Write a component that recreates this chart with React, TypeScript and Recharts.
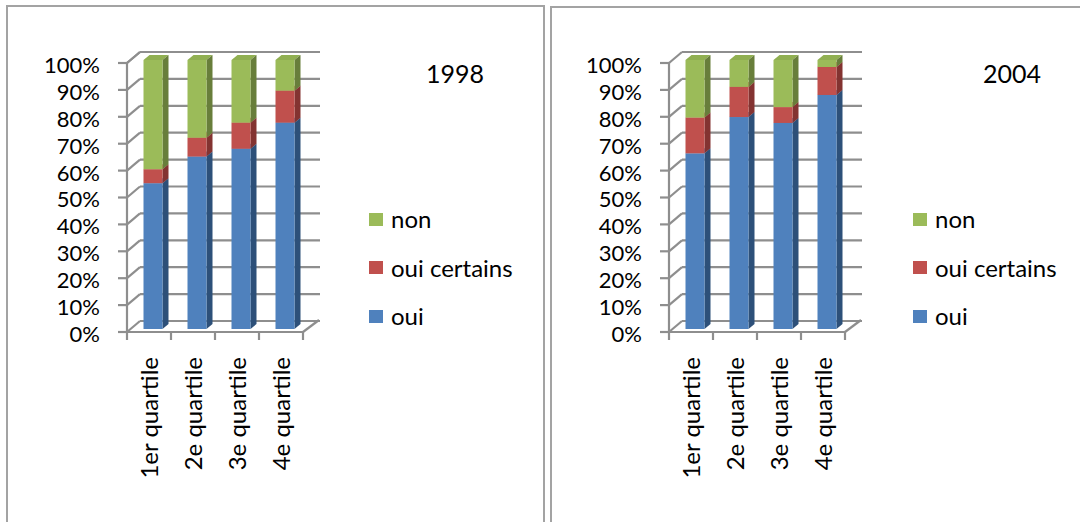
import React from "react";
import { Bar, BarChart, CartesianGrid, Legend, XAxis, YAxis } from "recharts";

const CATEGORIES = ["1er quartile", "2e quartile", "3e quartile", "4e quartile"];

const OUI_1998 = [54.2, 64.1, 67.0, 76.7];
const OUI_CERTAINS_1998 = [5.2, 7.0, 9.7, 11.9];
const NON_1998 = [40.6, 28.9, 23.3, 11.4];

const OUI_2004 = [65.3, 78.8, 76.6, 87.0];
const OUI_CERTAINS_2004 = [13.3, 11.2, 5.9, 10.4];
const NON_2004 = [21.4, 10.0, 17.5, 2.6];

const Y_TICKS = [0, 10, 20, 30, 40, 50, 60, 70, 80, 90, 100];

const SERIES = [
  { key: "oui", front: "#4F81BD", side: "#2D5079", top: "#5A8BC5" },
  { key: "oui certains", front: "#C0504D", side: "#833331", top: "#C95E5B" },
  { key: "non", front: "#9BBB59", side: "#687E3B", top: "#90AF51" },
];
// legend lists the series top-down, like the stack
const LEGEND_ORDER = ["non", "oui certains", "oui"];

const FONT = "Lato, 'Open Sans', sans-serif";
const GRID = "#8E8E8E";

// fake 3d depth
const DX = 6;
const DY = 5;
const SHIFT_X = 3.5;
const SHIFT_Y = -3;

function buildRows(oui: number[], ouiCertains: number[], non: number[]) {
  return CATEGORIES.map((quartile, i) => ({
    quartile,
    oui: oui[i],
    "oui certains": ouiCertains[i],
    non: non[i],
  }));
}

function Bar3D(props: any) {
  const { x, y, width, height, fill, side, top } = props;
  if (!height || height <= 0) return null;
  const fx = x + SHIFT_X;
  const fy = y + SHIFT_Y;
  return (
    <g>
      <polygon
        points={`${fx},${fy} ${fx + DX},${fy - DY} ${fx + width + DX},${fy - DY} ${fx + width},${fy}`}
        fill={top}
      />
      <polygon
        points={`${fx + width},${fy} ${fx + width + DX},${fy - DY} ${fx + width + DX},${fy + height - DY} ${fx + width},${fy + height}`}
        fill={side}
      />
      <rect x={fx} y={fy} width={width} height={height} fill={fill} />
    </g>
  );
}

function gridLine(p: any) {
  const { x1, x2, y1, key } = p;
  return (
    <g key={key}>
      <line x1={x1} y1={y1} x2={x1 + 13} y2={y1 - 11} stroke={GRID} strokeWidth={2.2} />
      <line x1={x1 + 13} y1={y1 - 11} x2={x2 + 17} y2={y1 - 11} stroke={GRID} strokeWidth={2.2} />
    </g>
  );
}

function PctTick(p: any) {
  return (
    <text x={p.x} y={p.y + 2} dy="0.36em" textAnchor="end" fontSize={22} fontFamily={FONT} fill="#000">
      {`${p.payload.value}%`}
    </text>
  );
}

function QuartileTick(p: any) {
  const { x, y, payload, index } = p;
  const half = payload.offset ?? 22;
  const last = index === CATEGORIES.length - 1;
  return (
    <g transform={`translate(${x},${y})`}>
      <line x1={-half} y1={0} x2={-half} y2={8} stroke={GRID} strokeWidth={2.2} />
      {last && <line x1={half} y1={0} x2={half} y2={8} stroke={GRID} strokeWidth={2.2} />}
      {last && <line x1={half} y1={0} x2={half + 16} y2={-12} stroke={GRID} strokeWidth={2.2} />}
      <text
        transform="rotate(-90)"
        x={-25}
        y={0}
        dy="0.36em"
        textAnchor="end"
        fontSize={24}
        fontFamily={FONT}
        fill="#000"
      >
        {payload.value}
      </text>
    </g>
  );
}

function LegendContent({ payload }: any) {
  const items = LEGEND_ORDER.map((name) => (payload || []).find((it: any) => it.value === name)).filter(Boolean);
  return (
    <div style={{ fontFamily: FONT, fontSize: 24, color: "#000" }}>
      {items.map((item: any) => (
        <div key={item.value} style={{ display: "flex", alignItems: "center", height: 48.5 }}>
          <span style={{ width: 14, height: 13, background: item.color, marginRight: 8 }} />
          <span style={{ lineHeight: "24px" }}>{item.value}</span>
        </div>
      ))}
    </div>
  );
}

type PanelProps = {
  left: number;
  title: string;
  titleLeft: number;
  legendLeft: number;
  data: ReturnType<typeof buildRows>;
};

function YearChart({ left, title, titleLeft, legendLeft, data }: PanelProps) {
  return (
    <div style={{ position: "absolute", left, top: 0, width: 540, height: 522 }}>
      <BarChart
        width={540}
        height={522}
        data={data}
        margin={{ top: 63, right: 237, bottom: 40, left: 0 }}
        barSize={19}
      >
        <CartesianGrid vertical={false} horizontal={gridLine} />
        <XAxis
          dataKey="quartile"
          height={150}
          interval={0}
          tickLine={false}
          tickSize={0}
          tickMargin={0}
          axisLine={{ stroke: GRID, strokeWidth: 2.2 }}
          tick={<QuartileTick />}
        />
        <YAxis
          width={127}
          domain={[0, 100]}
          ticks={Y_TICKS}
          interval={0}
          tickSize={9}
          tickMargin={18}
          axisLine={{ stroke: GRID, strokeWidth: 2.2 }}
          tickLine={{ stroke: GRID, strokeWidth: 2.2 }}
          tick={<PctTick />}
        />
        <Legend
          layout="vertical"
          align="center"
          verticalAlign="middle"
          wrapperStyle={{ left: legendLeft, top: 195, width: 180 }}
          content={<LegendContent />}
        />
        {SERIES.map((s) => (
          <Bar
            key={s.key}
            dataKey={s.key}
            stackId="a"
            fill={s.front}
            isAnimationActive={false}
            shape={(p: any) => <Bar3D {...p} side={s.side} top={s.top} />}
          />
        ))}
      </BarChart>
      <div
        style={{
          position: "absolute",
          left: titleLeft,
          top: 61,
          fontFamily: FONT,
          fontSize: 25,
          lineHeight: "25px",
          color: "#000",
        }}
      >
        {title}
      </div>
    </div>
  );
}

export default function App() {
  return (
    <div
      style={{
        position: "absolute",
        left: 0,
        top: 0,
        width: 1080,
        height: 522,
        overflow: "hidden",
        background: "#fff",
      }}
    >
      <div
        style={{
          position: "absolute",
          left: 6,
          top: 5,
          width: 539,
          height: 600,
          border: "2px solid #A3A3A3",
          boxSizing: "border-box",
        }}
      />
      <div
        style={{
          position: "absolute",
          left: 550,
          top: 6,
          width: 600,
          height: 600,
          border: "2px solid #A3A3A3",
          boxSizing: "border-box",
        }}
      />
      <YearChart
        left={0}
        title="1998"
        titleLeft={426}
        legendLeft={369}
        data={buildRows(OUI_1998, OUI_CERTAINS_1998, NON_1998)}
      />
      <YearChart
        left={542}
        title="2004"
        titleLeft={441}
        legendLeft={371}
        data={buildRows(OUI_2004, OUI_CERTAINS_2004, NON_2004)}
      />
    </div>
  );
}
